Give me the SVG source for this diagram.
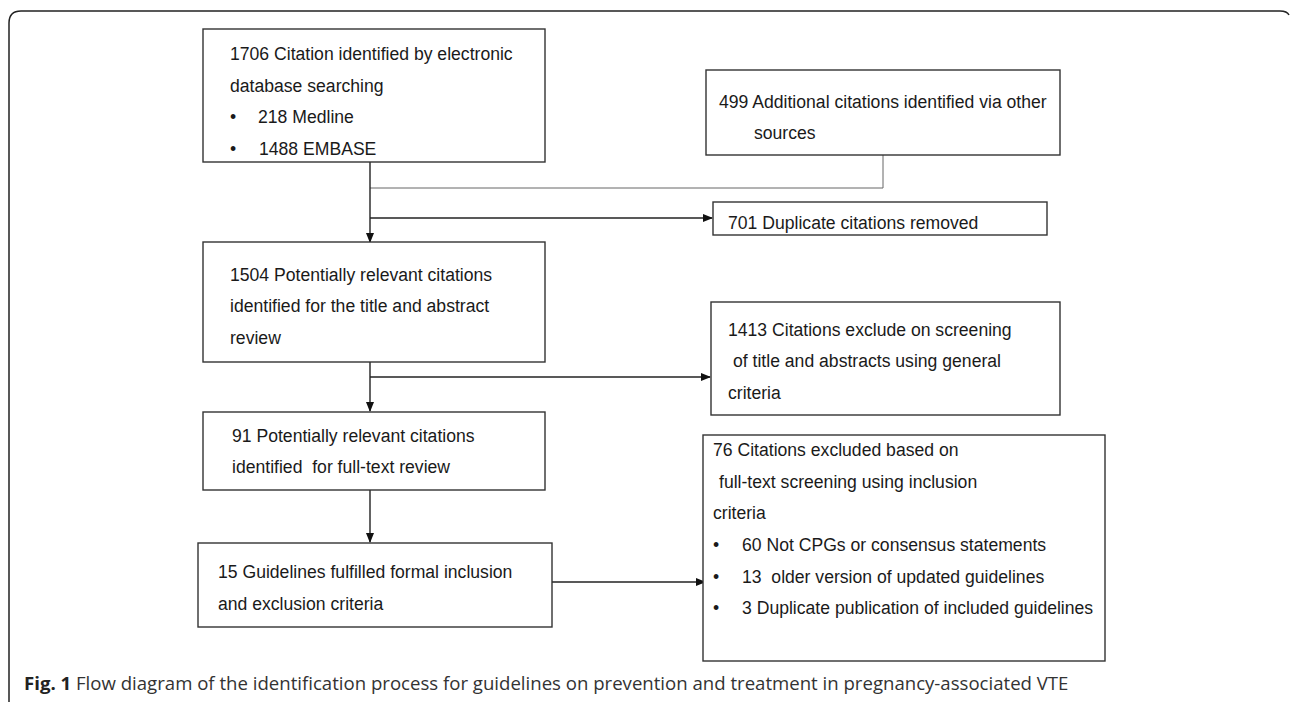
<svg xmlns="http://www.w3.org/2000/svg" width="1290" height="702" viewBox="0 0 1290 702">
<style>
.box{fill:#fff;stroke:#333;stroke-width:1.4}
.t{font-family:"Liberation Sans",Arial,sans-serif;font-size:17.6px;fill:#1a1a1a}
.ln{fill:none;stroke:#222;stroke-width:1.4}
.thin{fill:none;stroke:#666;stroke-width:1}
.cap{font-family:"Open Sans","Noto Sans",sans-serif;font-size:18.6px;fill:#333}
</style>
<defs>
<marker id="ah" markerWidth="10" markerHeight="8" refX="9" refY="4" orient="auto" markerUnits="userSpaceOnUse">
<path d="M0,0 L10,4 L0,8 z" fill="#111"/>
</marker>
</defs>
<rect width="1290" height="702" fill="#fff"/>
<path d="M9,702 V23 Q9,11 21,11 H1280 Q1287,11 1289,15" fill="none" stroke="#222" stroke-width="1.5"/>

<g id="connectors">
<line class="thin" x1="370" y1="188" x2="883" y2="188"/>
<line class="thin" x1="883" y1="188" x2="883" y2="155"/>
<line class="ln" x1="370" y1="162" x2="370" y2="242" marker-end="url(#ah)"/>
<line class="ln" x1="370" y1="218" x2="712" y2="218" marker-end="url(#ah)"/>
<line class="ln" x1="370" y1="362" x2="370" y2="411" marker-end="url(#ah)"/>
<line class="ln" x1="370" y1="377" x2="710" y2="377" marker-end="url(#ah)"/>
<line class="ln" x1="370" y1="490" x2="370" y2="542" marker-end="url(#ah)"/>
<line class="ln" x1="552" y1="582" x2="705" y2="582" marker-end="url(#ah)"/>
</g>

<g id="n1">
<rect class="box" x="203" y="29" width="342" height="133"/>
<text class="t" x="230" y="60">1706 Citation identified by electronic</text>
<text class="t" x="230" y="92">database searching</text>
<text class="t" x="230" y="123">•</text>
<text class="t" x="258" y="123">218 Medline</text>
<text class="t" x="230" y="155">•</text>
<text class="t" x="259" y="155">1488 EMBASE</text>
</g>

<g id="n2">
<rect class="box" x="706" y="70" width="354" height="85"/>
<text class="t" x="719" y="108">499 Additional citations identified via other</text>
<text class="t" x="754" y="139">sources</text>
</g>

<g id="n3">
<rect class="box" x="713" y="202" width="334" height="33"/>
<text class="t" x="728" y="229">701 Duplicate citations removed</text>
</g>

<g id="n4">
<rect class="box" x="203" y="242" width="342" height="120"/>
<text class="t" x="230" y="281">1504 Potentially relevant citations</text>
<text class="t" x="230" y="312">identified for the title and abstract</text>
<text class="t" x="230" y="344">review</text>
</g>

<g id="n5">
<rect class="box" x="711" y="302" width="349" height="113"/>
<text class="t" x="728" y="336">1413 Citations exclude on screening</text>
<text class="t" x="733" y="367">of title and abstracts using general</text>
<text class="t" x="728" y="399">criteria</text>
</g>

<g id="n6">
<rect class="box" x="203" y="412" width="342" height="78"/>
<text class="t" x="232" y="442">91 Potentially relevant citations</text>
<text class="t" x="232" y="473" xml:space="preserve">identified  for full-text review</text>
</g>

<g id="n7">
<rect class="box" x="198" y="543" width="354" height="84"/>
<text class="t" x="218" y="578">15 Guidelines fulfilled formal inclusion</text>
<text class="t" x="218" y="610">and exclusion criteria</text>
</g>

<g id="n8">
<rect class="box" x="703" y="435" width="402" height="226"/>
<text class="t" x="713" y="456">76 Citations excluded based on</text>
<text class="t" x="719" y="488">full-text screening using inclusion</text>
<text class="t" x="713" y="519">criteria</text>
<text class="t" x="713" y="551">•</text>
<text class="t" x="742" y="551">60 Not CPGs or consensus statements</text>
<text class="t" x="713" y="583">•</text>
<text class="t" x="742" y="583" xml:space="preserve">13  older version of updated guidelines</text>
<text class="t" x="713" y="614">•</text>
<text class="t" x="742" y="614">3 Duplicate publication of included guidelines</text>
</g>

<text class="cap" x="24" y="690"><tspan font-weight="bold" fill="#222">Fig. 1</tspan> Flow diagram of the identification process for guidelines on prevention and treatment in pregnancy-associated VTE</text>
</svg>
